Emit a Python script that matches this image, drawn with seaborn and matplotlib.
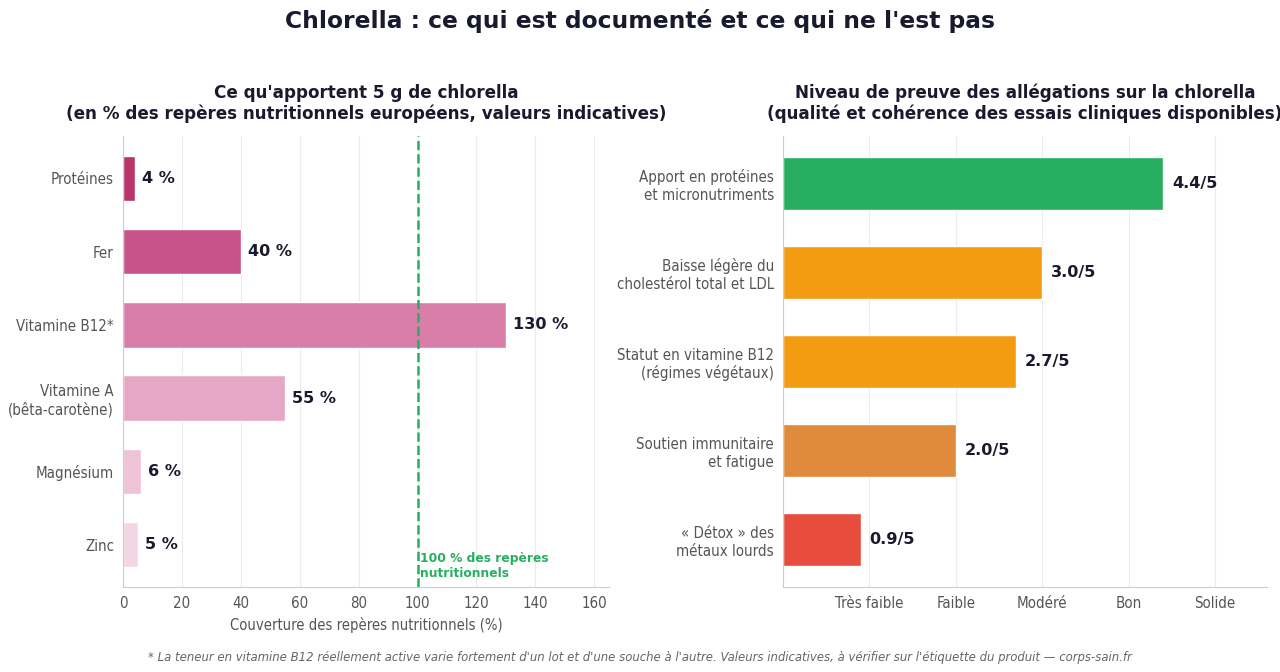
import matplotlib
matplotlib.use("Agg")
import matplotlib.pyplot as plt
import seaborn as sns
import pandas as pd

# === Data ===
nutrients = ["Protéines", "Fer", "Vitamine B12*", "Vitamine A\n(bêta-carotène)", "Magnésium", "Zinc"]
coverage = [4, 40, 130, 55, 6, 5]
nutrient_colors = ["#b8346a", "#c8538a", "#d87ea8", "#e6a7c6", "#f0c2d7", "#f4d5e4"]

claims = [
    "Apport en protéines\net micronutriments",
    "Baisse légère du\ncholestérol total et LDL",
    "Statut en vitamine B12\n(régimes végétaux)",
    "Soutien immunitaire\net fatigue",
    "« Détox » des\nmétaux lourds",
]
scores = [4.4, 3.0, 2.7, 2.0, 0.9]
claim_colors = ["#27ae60", "#f39c12", "#f39c12", "#e08a3b", "#e74c3c"]
level_ticks = [1, 2, 3, 4, 5]
level_labels = ["Très faible", "Faible", "Modéré", "Bon", "Solide"]

df_n = pd.DataFrame({"nutrient": nutrients, "coverage": coverage})
df_c = pd.DataFrame({"claim": claims, "score": scores})

# === Style ===
sns.set_style("whitegrid")
plt.rcParams["font.family"] = ["DejaVu Sans"]
dark = "#1a1a2e"
grey = "#555555"

fig = plt.figure(figsize=(12.8, 6.72), dpi=100)
ax1 = fig.add_axes([123 / 1280, 1 - 587 / 672, (609 - 123) / 1280, (587 - 136) / 672])
ax2 = fig.add_axes([783 / 1280, 1 - 587 / 672, (1267 - 783) / 1280, (587 - 136) / 672])

# === Left: nutritional coverage ===
sns.barplot(data=df_n, x="coverage", y="nutrient", hue="nutrient", palette=nutrient_colors,
            legend=False, width=0.62, ax=ax1, saturation=1)
ax1.set_xlim(0, 165)
ax1.set_ylim(5.58, -0.58)
ax1.set_xticks(range(0, 161, 20))
for i, v in enumerate(coverage):
    ax1.text(v + 2.5, i, f"{v} %", va="center", ha="left", fontsize=11.6, fontweight="bold", color=dark)
ax1.axvline(100, color="#27ae60", linestyle="--", linewidth=1.8)
ax1.text(101, 5.3, "100 % des repères\nnutritionnels", color="#27ae60", fontsize=8.8,
         fontweight="bold", ha="left", va="center")
ax1.set_title("Ce qu'apportent 5 g de chlorella\n(en % des repères nutritionnels européens, valeurs indicatives)",
              fontsize=12.05, fontweight="bold", color=dark, pad=12)
ax1.set_xlabel("Couverture des repères nutritionnels (%)", fontsize=10.6, color=grey,
               fontstretch="condensed")
ax1.set_ylabel("")

# === Right: evidence level ===
sns.barplot(data=df_c, x="score", y="claim", hue="claim", palette=claim_colors,
            legend=False, width=0.6, ax=ax2, saturation=1)
ax2.set_xlim(0, 5.6)
ax2.set_ylim(4.53, -0.53)
ax2.set_xticks(level_ticks)
ax2.set_xticklabels(level_labels)
for i, v in enumerate(scores):
    ax2.text(v + 0.1, i, f"{v:.1f}/5", va="center", ha="left", fontsize=11.6, fontweight="bold", color=dark)
ax2.set_title("Niveau de preuve des allégations sur la chlorella\n(qualité et cohérence des essais cliniques disponibles)",
              fontsize=12.05, fontweight="bold", color=dark, pad=12)
ax2.set_xlabel("")
ax2.set_ylabel("")

for ax in (ax1, ax2):
    ax.grid(axis="y", visible=False)
    ax.grid(axis="x", color="#ebebeb", linewidth=0.8)
    ax.set_axisbelow(True)
    for s in ("top", "right"):
        ax.spines[s].set_visible(False)
    for s in ("left", "bottom"):
        ax.spines[s].set_color("#cccccc")
        ax.spines[s].set_linewidth(0.8)
    ax.tick_params(axis="both", colors=grey, labelsize=10.8, length=3, width=0.8)
    ax.tick_params(axis="both", color="#999999")
    for lab in ax.get_xticklabels() + ax.get_yticklabels():
        lab.set_fontstretch("condensed")

fig.text(0.5, 1 - 21 / 672, "Chlorella : ce qui est documenté et ce qui ne l'est pas",
         fontsize=16.8, fontweight="bold", color=dark, ha="center", va="center")
fig.text(0.5, 1 - 657 / 672, "* La teneur en vitamine B12 réellement active varie fortement d'un lot et d'une souche à l'autre. "
         "Valeurs indicatives, à vérifier sur l'étiquette du produit — corps-sain.fr",
         ha="center", va="center", fontsize=9.4, style="italic", color="#666666", fontstretch="condensed")

fig.savefig("out.png", dpi=100, facecolor="white")
